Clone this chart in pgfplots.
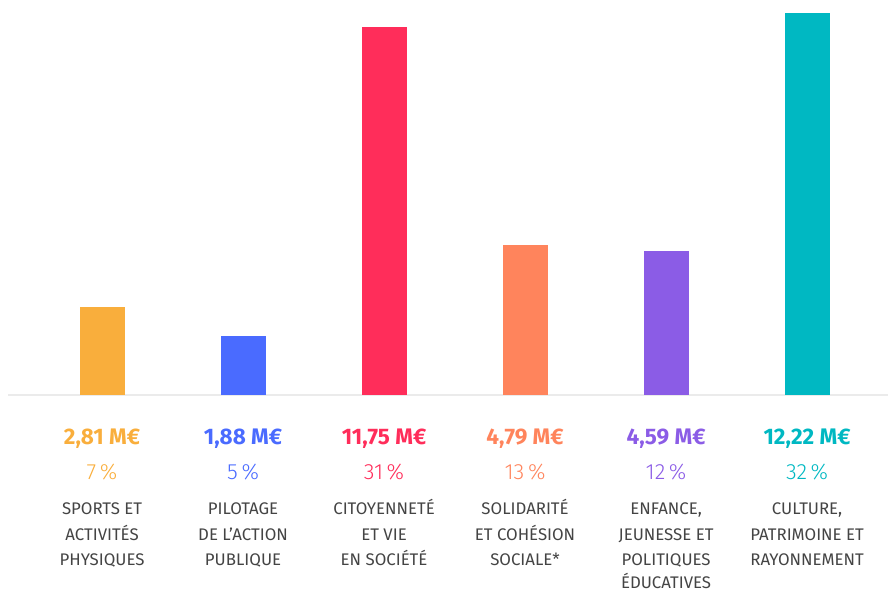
\documentclass[border=0pt]{standalone}
\usepackage{pgfplots}
\pgfplotsset{compat=1.18}
\usepackage{fontspec}
\setmainfont{Fira Sans}
\newfontfamily\lightfont{Fira Sans Light}
\definecolor{cA}{HTML}{F9AE3C}
\definecolor{cB}{HTML}{4A6BFF}
\definecolor{cC}{HTML}{FF2D5A}
\definecolor{cD}{HTML}{FF845C}
\definecolor{cE}{HTML}{8B5CE6}
\definecolor{cF}{HTML}{00B8C2}
\definecolor{txt}{HTML}{444444}
\newcommand\val[3]{\node[anchor=base,inner sep=0pt,text=#2,font=\fontsize{22.5}{24}\selectfont\bfseries] at (axis cs:#1,0) [yshift=-49pt] {#3};}
\newcommand\pct[3]{\node[anchor=base,inner sep=0pt,text=#2,font=\fontsize{22}{24}\selectfont\lightfont] at (axis cs:#1,0) [yshift=-84pt] {#3};}
\newcommand\lab[3]{\node[anchor=base,inner sep=0pt,text=txt,font=\fontsize{16.8}{18}\selectfont] at (axis cs:#1,0) [yshift=#2] {#3};}
\begin{document}
\begin{tikzpicture}
\useasboundingbox (-8pt,-196pt) rectangle (880pt,395pt);
\begin{axis}[
  at={(0,0)}, anchor=south west,
  width=880pt, height=395pt, scale only axis,
  xmin=-0.667, xmax=5.574, ymin=0, ymax=12.62,
  hide y axis, axis x line=bottom,
  x axis line style={-, color=black!8, line width=2pt},
  xtick=\empty, ytick=\empty,
  ybar, bar width=45pt, bar shift=0pt, clip=false,
]
\addplot[fill=cA, draw=none] coordinates {(0,2.81)};
\addplot[fill=cB, draw=none] coordinates {(1,1.88)};
\addplot[fill=cC, draw=none] coordinates {(2,11.75)};
\addplot[fill=cD, draw=none] coordinates {(3,4.79)};
\addplot[fill=cE, draw=none] coordinates {(4,4.59)};
\addplot[fill=cF, draw=none] coordinates {(5,12.22)};
\val{0}{cA}{2,81 M€}
\val{1}{cB}{1,88 M€}
\val{2}{cC}{11,75 M€}
\val{3}{cD}{4,79 M€}
\val{4}{cE}{4,59 M€}
\val{5}{cF}{12,22 M€}
\pct{0}{cA}{7\,\%}
\pct{1}{cB}{5\,\%}
\pct{2}{cC}{31\,\%}
\pct{3}{cD}{13\,\%}
\pct{4}{cE}{12\,\%}
\pct{5}{cF}{32\,\%}
\lab{0}{-119.5pt}{SPORTS ET}
\lab{0}{-145.5pt}{ACTIVITÉS}
\lab{0}{-170.5pt}{PHYSIQUES}
\lab{1}{-119.5pt}{PILOTAGE}
\lab{1}{-145.5pt}{DE L'ACTION}
\lab{1}{-170.5pt}{PUBLIQUE}
\lab{2}{-119.5pt}{CITOYENNETÉ}
\lab{2}{-145.5pt}{ET VIE}
\lab{2}{-170.5pt}{EN SOCIÉTÉ}
\lab{3}{-119.5pt}{SOLIDARITÉ}
\lab{3}{-145.5pt}{ET COHÉSION}
\lab{3}{-170.5pt}{SOCIALE*}
\lab{4}{-119.5pt}{ENFANCE,}
\lab{4}{-145.5pt}{JEUNESSE ET}
\lab{4}{-170.5pt}{POLITIQUES}
\lab{4}{-193pt}{ÉDUCATIVES}
\lab{5}{-119.5pt}{CULTURE,}
\lab{5}{-145.5pt}{PATRIMOINE ET}
\lab{5}{-170.5pt}{RAYONNEMENT}
\end{axis}
\end{tikzpicture}
\end{document}
